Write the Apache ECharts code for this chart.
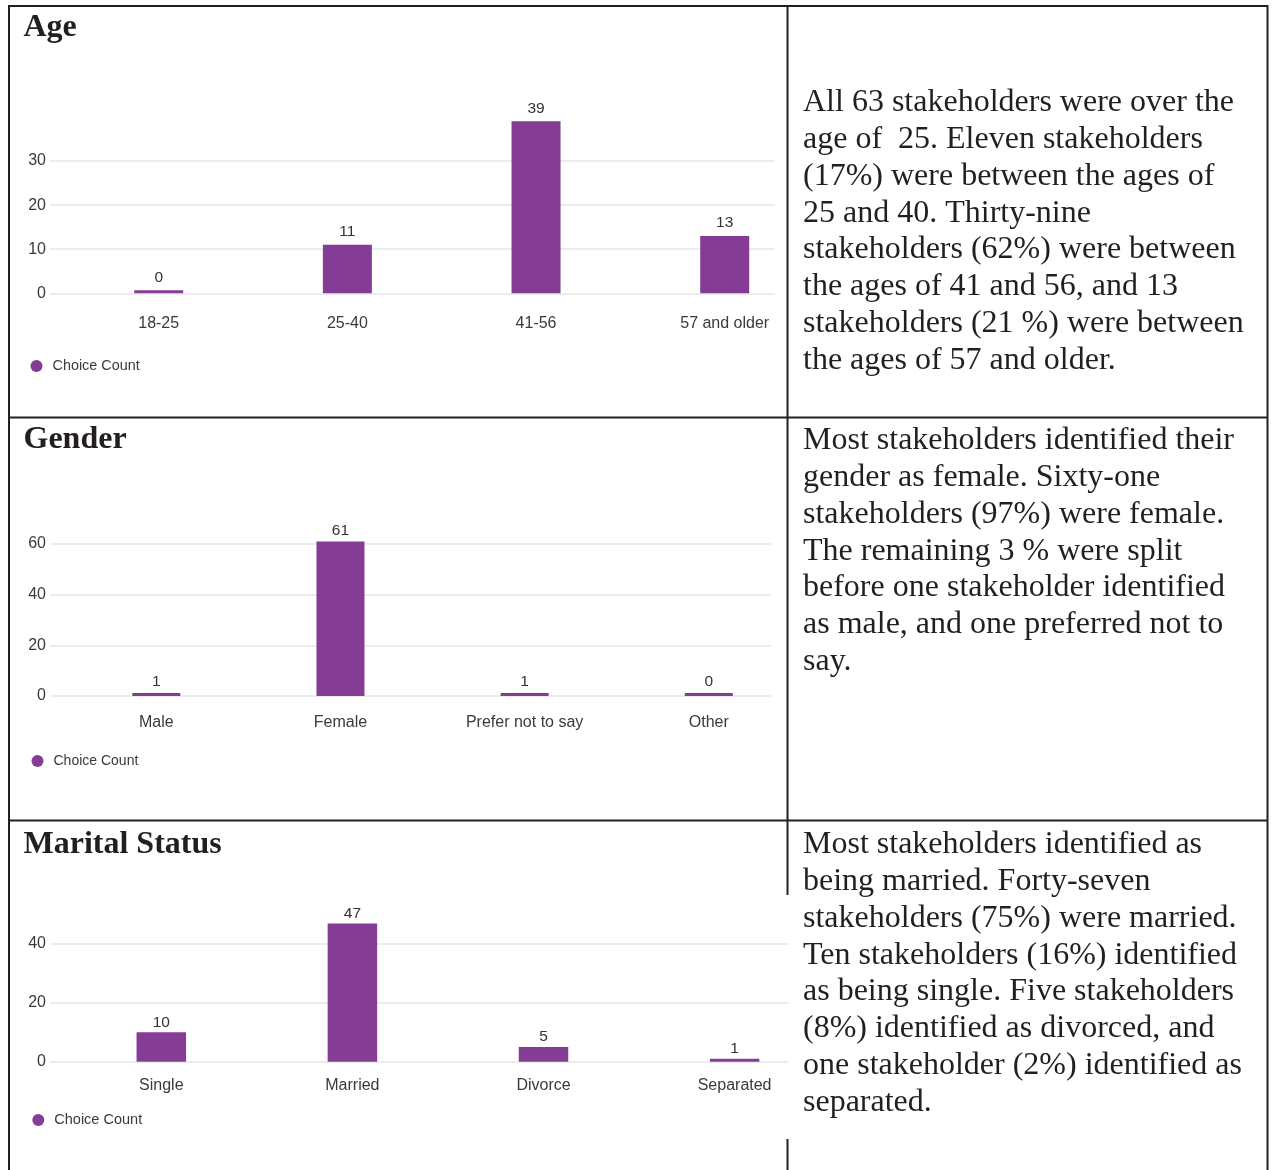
<!DOCTYPE html>
<html>
<head>
<meta charset="utf-8">
<title>Stakeholder demographics</title>
<script src="https://cdn.jsdelivr.net/npm/echarts@6/dist/echarts.min.js"></script>
<style>
  html, body { margin: 0; padding: 0; background: #ffffff; }
  #page { width: 1274px; height: 1170px; }
</style>
</head>
<body>
<div id="page"></div>
<script>
// ---- data ----
const seriesName = 'Choice Count';
const sectionTitles = ['Age', 'Gender', 'Marital Status'];

const ageCategories = ['18-25', '25-40', '41-56', '57 and older'];
const ageCounts = [0, 11, 39, 13];
const ageTicks = [0, 10, 20, 30];

const genderCategories = ['Male', 'Female', 'Prefer not to say', 'Other'];
const genderCounts = [1, 61, 1, 0];
const genderTicks = [0, 20, 40, 60];

const maritalCategories = ['Single', 'Married', 'Divorce', 'Separated'];
const maritalCounts = [10, 47, 5, 1];
const maritalTicks = [0, 20, 40];

const ageNotes = [
  'All 63 stakeholders were over the',
  'age of  25. Eleven stakeholders',
  '(17%) were between the ages of',
  '25 and 40. Thirty-nine',
  'stakeholders (62%) were between',
  'the ages of 41 and 56, and 13',
  'stakeholders (21 %) were between',
  'the ages of 57 and older.'
];
const genderNotes = [
  'Most stakeholders identified their',
  'gender as female. Sixty-one',
  'stakeholders (97%) were female.',
  'The remaining 3 % were split',
  'before one stakeholder identified',
  'as male, and one preferred not to',
  'say.'
];
const maritalNotes = [
  'Most stakeholders identified as',
  'being married. Forty-seven',
  'stakeholders (75%) were married.',
  'Ten stakeholders (16%) identified',
  'as being single. Five stakeholders',
  '(8%) identified as divorced, and',
  'one stakeholder (2%) identified as',
  'separated.'
];

// ---- layout of the three table rows ----
const BAR_COLOR = '#843c94';
const INK = '#231f20';
const CHART_FONT = '"Liberation Sans", Arial, sans-serif';
const SERIF = '"Liberation Serif", "Times New Roman", serif';

const panels = [
  { cats: ageCategories, counts: ageCounts, ticks: ageTicks,
    plotLeft: 50, plotRight: 775, topPx: 161, zeroPx: 293.3,
    firstCenter: 158.7, step: 188.67, barWidth: 49,
    catMargin: 22, valueDistance: 5,
    legendCenter: [36.5, 361], legendFont: 14.4,
    titleY: 27.5, notes: ageNotes, notesCenter: 103 },
  { cats: genderCategories, counts: genderCounts, ticks: genderTicks,
    plotLeft: 50, plotRight: 771, topPx: 544, zeroPx: 696,
    firstCenter: 156.3, step: 184.17, barWidth: 48,
    catMargin: 19, valueDistance: 3,
    legendCenter: [37.5, 756], legendFont: 14,
    titleY: 440, notes: genderNotes, notesCenter: 441 },
  { cats: maritalCategories, counts: maritalCounts, ticks: maritalTicks,
    plotLeft: 50, plotRight: 788, topPx: 944, zeroPx: 1061.7,
    firstCenter: 161.3, step: 191.1, barWidth: 49.5,
    catMargin: 16, valueDistance: 2,
    legendCenter: [38.3, 1114.5], legendFont: 14.5,
    titleY: 845, notes: maritalNotes, notesCenter: 845 }
];

const grids = [], xAxes = [], yAxes = [], series = [], legends = [], graphics = [];

panels.forEach((p, i) => {
  grids.push({
    left: p.plotLeft, top: p.topPx,
    width: p.plotRight - p.plotLeft, height: p.zeroPx - p.topPx,
    outerBoundsMode: 'none', containLabel: false
  });

  // category slots are placed on a numeric scale: slot k sits at value k
  xAxes.push({
    type: 'value', gridIndex: i,
    min: (p.plotLeft - p.firstCenter) / p.step,
    max: (p.plotRight - p.firstCenter) / p.step,
    axisLine: { show: false }, axisTick: { show: false }, splitLine: { show: false },
    axisLabel: {
      customValues: p.cats.map((_, k) => k),
      formatter: v => p.cats[Math.round(v)],
      margin: p.catMargin, fontSize: 16, color: '#3a3a3a', fontFamily: CHART_FONT
    }
  });

  yAxes.push({
    type: 'value', gridIndex: i,
    min: p.ticks[0], max: p.ticks[p.ticks.length - 1],
    interval: p.ticks[1] - p.ticks[0],
    axisLine: { show: false }, axisTick: { show: false },
    axisLabel: { margin: 4, fontSize: 16, color: '#3a3a3a', fontFamily: CHART_FONT,
                 padding: [3, 0, 0, 0] },
    splitLine: { lineStyle: { color: '#ececec', width: 2 } }
  });

  series.push({
    type: 'bar', name: seriesName, xAxisIndex: i, yAxisIndex: i,
    data: p.counts.map((v, k) => [k, v]),
    barWidth: p.barWidth, barMinHeight: 3, clip: false,
    itemStyle: { color: BAR_COLOR },
    label: {
      show: true, position: 'top', distance: p.valueDistance,
      formatter: d => String(p.counts[d.dataIndex]),
      fontSize: 15.5, color: '#333333', fontFamily: CHART_FONT
    }
  });

  legends.push({
    data: [seriesName], icon: 'circle', selectedMode: false,
    left: p.legendCenter[0] - 11, top: p.legendCenter[1] - 7,
    itemWidth: 22, itemHeight: 12,
    textStyle: { fontSize: p.legendFont, color: '#3a3a3a', fontFamily: CHART_FONT }
  });

  // row heading
  graphics.push({
    type: 'text', silent: true, x: 23.5, y: p.titleY,
    style: { text: sectionTitles[i], fontSize: 32, fontWeight: 'bold', fontFamily: SERIF,
             fill: INK, verticalAlign: 'middle' }
  });

  // commentary in the right-hand column
  const lh = 36.75;
  graphics.push({
    type: 'text', silent: true, x: 803, y: p.notesCenter - lh / 2,
    style: { text: p.notes.join('\n'), fontSize: 32, fontFamily: SERIF,
             lineHeight: lh, fill: INK, verticalAlign: 'top' }
  });
});

// table rules
const rules = [
  [9, 6, 1268, 6],          // top
  [9, 5, 9, 1170],          // left
  [1267.5, 5, 1267.5, 1170],// right
  [9, 417.5, 1268, 417.5],  // row 1 / row 2
  [9, 820.5, 1268, 820.5],  // row 2 / row 3
  [787.5, 5, 787.5, 895],   // column divider (upper part)
  [787.5, 1139, 787.5, 1170]// column divider (bottom part)
];
rules.forEach(r => graphics.push({
  type: 'line', silent: true,
  shape: { x1: r[0], y1: r[1], x2: r[2], y2: r[3] },
  style: { stroke: INK, lineWidth: 2 }
}));

const chart = echarts.init(document.getElementById('page'), null, { renderer: 'canvas' });
chart.setOption({
  animation: false,
  backgroundColor: '#ffffff',
  grid: grids,
  xAxis: xAxes,
  yAxis: yAxes,
  legend: legends,
  series: series,
  graphic: graphics
});
</script>
</body>
</html>
